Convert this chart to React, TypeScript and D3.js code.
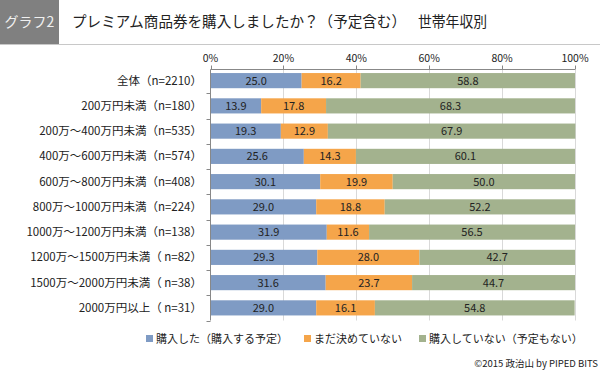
import React from 'react'
import * as d3 from 'd3'

const categories = [
  '全体（n=2210）',
  '200万円未満（n=180）',
  '200万～400万円未満（n=535）',
  '400万～600万円未満（n=574）',
  '600万～800万円未満（n=408）',
  '800万～1000万円未満（n=224）',
  '1000万～1200万円未満（n=138）',
  '1200万～1500万円未満（ n=82）',
  '1500万～2000万円未満（ n=38）',
  '2000万円以上（ n=31）',
]
const bought = [25.0, 13.9, 19.3, 25.6, 30.1, 29.0, 31.9, 29.3, 31.6, 29.0]
const undecided = [16.2, 17.8, 12.9, 14.3, 19.9, 18.8, 11.6, 28.0, 23.7, 16.1]
const notBought = [58.8, 68.3, 67.9, 60.1, 50.0, 52.2, 56.5, 42.7, 44.7, 54.8]
const seriesNames = ['購入した（購入する予定）', 'まだ決めていない', '購入していない（予定もない）']
const ticks = [0, 20, 40, 60, 80, 100]

const colors = ['#7f9bc4', '#f5a54a', '#a3b28e']
const font = '"Noto Sans CJK JP", "Noto Sans", sans-serif'

export default function App() {
  const W = 600, H = 370
  const x = d3.scaleLinear().domain([0, 100]).range([210.5, 575])
  const y = d3.scaleBand<string>().domain(categories).range([68, 320.5]).paddingInner(0.4).paddingOuter(0.2)
  const axisY = 69.5
  const bottomY = 320.5

  const stackData = categories.map((c, i) => ({ cat: c, s0: bought[i], s1: undecided[i], s2: notBought[i] }))
  const stacked = d3.stack<any>().keys(['s0', 's1', 's2'])(stackData)

  const legendX = [146, 304, 419]

  return (
    <svg width={W} height={H} style={{ position: 'absolute', left: 0, top: 0, background: '#fff' }} fontFamily={font}>
      {/* title */}
      <rect x={0} y={0} width={59} height={44} fill="#808080" />
      <text x={29.5} y={27} textAnchor="middle" fontSize={14} fill="#f0f0f0">グラフ2</text>
      <text x={72} y={27} fontSize={15} fill="#222" textLength={334} lengthAdjust="spacingAndGlyphs">プレミアム商品券を購入しましたか？（予定含む）</text>
      <text x={418} y={27} fontSize={15} fill="#222" textLength={69} lengthAdjust="spacingAndGlyphs">世帯年収別</text>
      <line x1={0} x2={W} y1={44.5} y2={44.5} stroke="#c8c8c8" />

      {/* grid */}
      {ticks.slice(1).map(t => (
        <line key={'g' + t} x1={Math.round(x(t)) + 0.5} x2={Math.round(x(t)) + 0.5} y1={axisY} y2={bottomY} stroke="#d9d9d9" />
      ))}

      {/* bars */}
      {stacked.map((layer, si) => (
        <g key={si}>
          {layer.map((d, i) => (
            <rect key={i} x={x(d[0])} width={x(d[1]) - x(d[0])} y={y(categories[i])} height={y.bandwidth()} fill={colors[si]} />
          ))}
          {layer.map((d, i) => (
            <text key={'t' + i} x={(x(d[0]) + x(d[1])) / 2} y={(y(categories[i]) as number) + y.bandwidth() / 2 + 4}
              textAnchor="middle" fontSize={11} fill="#222">{(d[1] - d[0]).toFixed(1)}</text>
          ))}
        </g>
      ))}

      {/* top axis */}
      <line x1={x(0)} x2={x(100)} y1={axisY} y2={axisY} stroke="#888" />
      {ticks.map(t => (
        <g key={t}>
          <line x1={Math.round(x(t)) + 0.5} x2={Math.round(x(t)) + 0.5} y1={axisY - 4} y2={axisY} stroke="#888" />
          <text x={x(t)} y={axisY - 8} textAnchor="middle" fontSize={10.5} fill="#222">{t}%</text>
        </g>
      ))}

      {/* left axis */}
      <line x1={x(0)} x2={x(0)} y1={axisY} y2={bottomY} stroke="#888" />
      {categories.map((c, i) => {
        const ty = Math.round((y(c) as number) + y.bandwidth() + y.step() * y.paddingInner() / 2) + 0.5
        return (
          <g key={c}>
            <line x1={x(0) - 4} x2={x(0)} y1={ty} y2={ty} stroke="#888" />
            <text x={202} y={(y(c) as number) + y.bandwidth() / 2 + 4} textAnchor="end" fontSize={11.5} fill="#222">{c}</text>
          </g>
        )
      })}

      {/* legend */}
      {seriesNames.map((s, i) => (
        <g key={s}>
          <rect x={legendX[i]} y={335} width={7} height={7} fill={colors[i]} />
          <text x={legendX[i] + 10} y={342.5} fontSize={11} fill="#222">{s}</text>
        </g>
      ))}

      <text x={598} y={367} textAnchor="end" fontSize={9.5} fill="#222">©2015 政治山 by PIPED BITS</text>
    </svg>
  )
}
